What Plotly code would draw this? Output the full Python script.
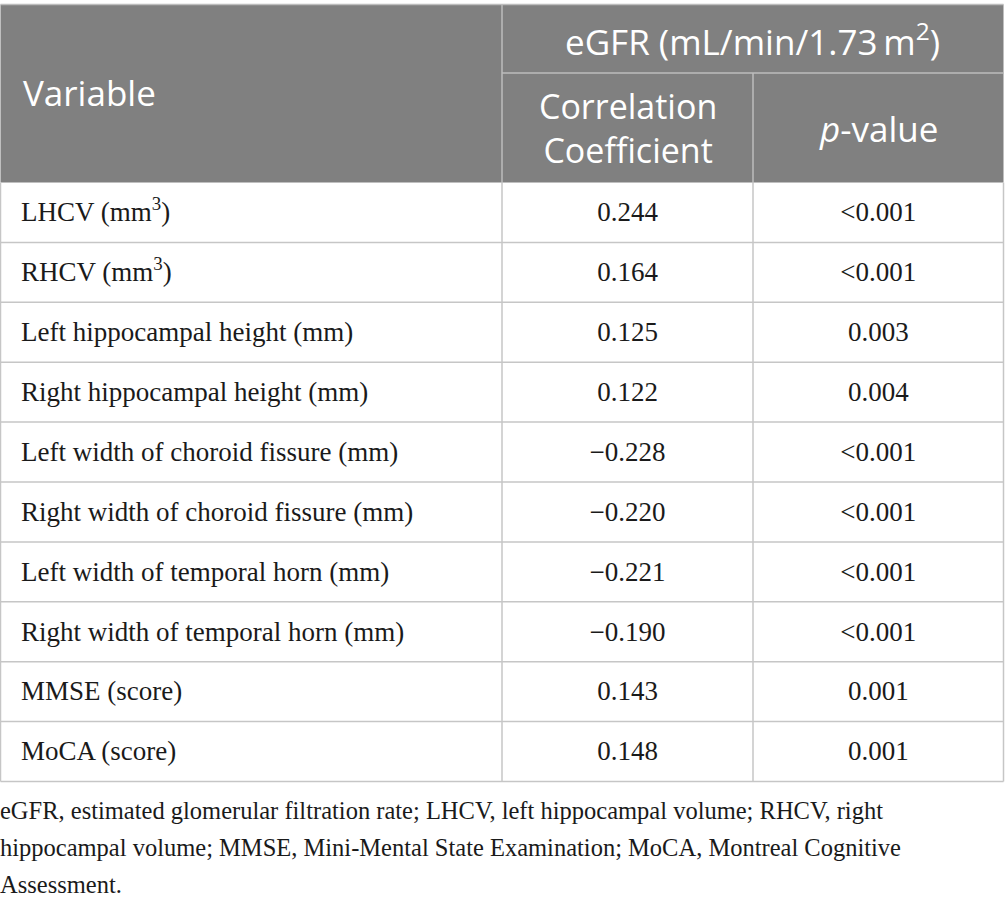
import plotly.graph_objects as go

# ── table content ──────────────────────────────────────────
variables = [
    "LHCV (mm<sup>3</sup>)",
    "RHCV (mm<sup>3</sup>)",
    "Left hippocampal height (mm)",
    "Right hippocampal height (mm)",
    "Left width of choroid fissure (mm)",
    "Right width of choroid fissure (mm)",
    "Left width of temporal horn (mm)",
    "Right width of temporal horn (mm)",
    "MMSE (score)",
    "MoCA (score)",
]
coefficients = ["0.244", "0.164", "0.125", "0.122", "\u22120.228",
                "\u22120.220", "\u22120.221", "\u22120.190", "0.143", "0.148"]
p_values = ["<0.001", "<0.001", "0.003", "0.004", "<0.001",
            "<0.001", "<0.001", "<0.001", "0.001", "0.001"]

header_group = "eGFR (mL/min/1.73\u2009m<sup>2</sup>)"
header_var = "Variable"
header_coef = "Correlation<br>Coefficient"
header_p = "<i>p</i>-value"

footnote_lines = [
    "eGFR, estimated glomerular filtration rate; LHCV, left hippocampal volume; RHCV, right",
    "hippocampal volume; MMSE, Mini-Mental State Examination; MoCA, Montreal Cognitive",
    "Assessment.",
]

# ── geometry (page pixels) ────────────────────────────────
W, H = 1005, 908
col_edges = [0.5, 502, 753, 1003.5]
top, mid, head_bottom = 4.5, 73, 182.5
row_h = 59.9
note_top, note_step = 813, 37

HEAD_BG = "#808080"
HEAD_LINE = "#bdbdbd"
BODY_LINE = "#c6c6c6"
TEXT = "#1a1a1a"
SERIF = "Liberation Serif"
SANS = "Open Sans"

n = len(variables)
row_mid = [head_bottom + row_h * (i + 0.5) + 2 for i in range(n)]
row_lines = [head_bottom + row_h * i for i in range(n + 1)]
bottom = row_lines[-1]
col_mid = [(col_edges[i] + col_edges[i + 1]) / 2 for i in range(3)]

fig = go.Figure()

# header background + grid
shapes = [dict(type="rect", x0=col_edges[0], x1=col_edges[-1], y0=top, y1=head_bottom,
               fillcolor=HEAD_BG, line=dict(width=0), layer="below")]
shapes.append(dict(type="line", x0=col_edges[1], x1=col_edges[-1], y0=mid, y1=mid,
                   line=dict(color=HEAD_LINE, width=1.5)))
shapes.append(dict(type="line", x0=col_edges[1], x1=col_edges[1], y0=top, y1=head_bottom,
                   line=dict(color=HEAD_LINE, width=1.5)))
shapes.append(dict(type="line", x0=col_edges[2], x1=col_edges[2], y0=mid, y1=head_bottom,
                   line=dict(color=HEAD_LINE, width=1.5)))
shapes.append(dict(type="line", x0=col_edges[0], x1=col_edges[-1], y0=top, y1=top,
                   line=dict(color=HEAD_LINE, width=1.5)))

# body grid
for y in row_lines[1:]:
    shapes.append(dict(type="line", x0=col_edges[0], x1=col_edges[-1], y0=y, y1=y,
                       line=dict(color=BODY_LINE, width=1.5)))
for x in col_edges:
    shapes.append(dict(type="line", x0=x, x1=x, y0=head_bottom, y1=bottom,
                       line=dict(color=BODY_LINE, width=1.5)))

# header text
sub_mid = (mid + head_bottom) / 2
annotations = [
    dict(x=21, y=(top + head_bottom) / 2 - 1, text=header_var, xanchor="left"),
    dict(x=(col_edges[1] + col_edges[-1]) / 2, y=(top + mid) / 2 + 1, text=header_group),
    dict(x=col_mid[1], y=sub_mid, text=header_coef),
    dict(x=col_mid[2], y=sub_mid + 1, text=header_p),
]
for a in annotations:
    a.update(xref="x", yref="y", showarrow=False, yanchor="middle",
             font=dict(family=SANS, size=35, color="white"))
annotations[2]["font"]["size"] = 34

# body text
body_font = dict(family=SERIF, size=27, color=TEXT)
fig.add_trace(go.Scatter(x=[21] * n, y=row_mid, text=variables, mode="text",
                         textposition="middle right", textfont=body_font,
                         hoverinfo="skip"))
fig.add_trace(go.Scatter(x=[col_mid[1]] * n, y=row_mid, text=coefficients, mode="text",
                         textposition="middle center", textfont=body_font,
                         hoverinfo="skip"))
fig.add_trace(go.Scatter(x=[col_mid[2]] * n, y=row_mid, text=p_values, mode="text",
                         textposition="middle center", textfont=body_font,
                         hoverinfo="skip"))

# footnote
fig.add_trace(go.Scatter(x=[0] * len(footnote_lines),
                         y=[note_top + note_step * i for i in range(len(footnote_lines))],
                         text=footnote_lines, mode="text", textposition="middle right",
                         textfont=dict(family=SERIF, size=24.5, color=TEXT),
                         hoverinfo="skip"))

fig.update_layout(
    width=W, height=H,
    margin=dict(l=0, r=0, t=0, b=0),
    paper_bgcolor="white", plot_bgcolor="white",
    showlegend=False,
    shapes=shapes, annotations=annotations,
    xaxis=dict(range=[0, W], visible=False, fixedrange=True),
    yaxis=dict(range=[H, 0], visible=False, fixedrange=True),
)

# page body has an 8px default margin; drop it so the figure sits at (0, 0)
fig.write_html("out.html", config={"displayModeBar": False},
               post_script="document.body.style.margin='0';")
